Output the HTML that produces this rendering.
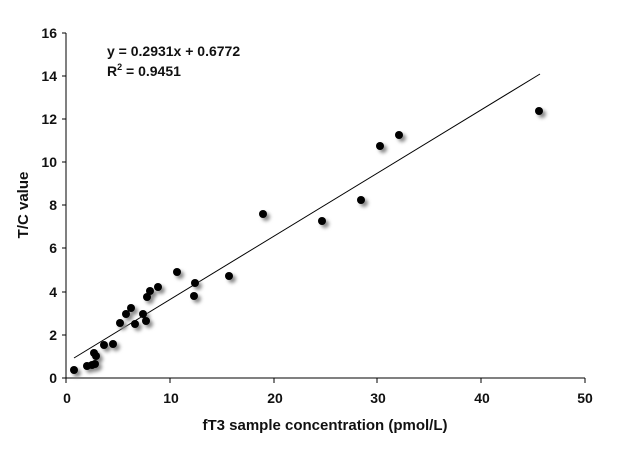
<!DOCTYPE html>
<html><head><style>
html,body{margin:0;padding:0;background:#fff;}
svg text{font-family:"Liberation Sans",sans-serif;fill:#111;}
</style></head><body>
<svg width="624" height="450" viewBox="0 0 624 450" xmlns="http://www.w3.org/2000/svg">
<defs>
<filter id="sh" x="-1" y="-1" width="3" height="3"><feGaussianBlur stdDeviation="1.8"/></filter>
</defs>
<g stroke="#000" stroke-width="1" fill="none">
<line x1="66" y1="33" x2="66" y2="378"/>
<line x1="66" y1="378" x2="585" y2="378"/>
<line x1="62" y1="33" x2="66" y2="33"/>
<line x1="62" y1="76" x2="66" y2="76"/>
<line x1="62" y1="119" x2="66" y2="119"/>
<line x1="62" y1="162" x2="66" y2="162"/>
<line x1="62" y1="205" x2="66" y2="205"/>
<line x1="62" y1="248" x2="66" y2="248"/>
<line x1="62" y1="292" x2="66" y2="292"/>
<line x1="62" y1="335" x2="66" y2="335"/>
<line x1="62" y1="378" x2="66" y2="378"/>
<line x1="66" y1="378" x2="66" y2="383"/>
<line x1="170" y1="378" x2="170" y2="383"/>
<line x1="274" y1="378" x2="274" y2="383"/>
<line x1="377" y1="378" x2="377" y2="383"/>
<line x1="481" y1="378" x2="481" y2="383"/>
<line x1="585" y1="378" x2="585" y2="383"/>
</g>
<g font-size="14" font-weight="bold" text-anchor="end">
<text x="57" y="38">16</text><text x="57" y="81">14</text><text x="57" y="124">12</text>
<text x="57" y="167">10</text><text x="57" y="210">8</text><text x="57" y="253">6</text>
<text x="57" y="297">4</text><text x="57" y="340">2</text><text x="57" y="383">0</text>
</g>
<g font-size="14" font-weight="bold" text-anchor="middle">
<text x="67" y="403">0</text><text x="171" y="403">10</text><text x="275" y="403">20</text>
<text x="378" y="403">30</text><text x="482" y="403">40</text><text x="585" y="403">50</text>
</g>
<text x="325" y="430" font-size="15" font-weight="bold" text-anchor="middle">fT3 sample concentration (pmol/L)</text>
<text transform="translate(28,205) rotate(-90)" font-size="15" font-weight="bold" text-anchor="middle">T/C value</text>
<text x="107" y="56" font-size="14" font-weight="bold">y = 0.2931x + 0.6772</text>
<text x="107" y="76" font-size="14" font-weight="bold">R<tspan font-size="9" dy="-6">2</tspan><tspan dy="6"> = 0.9451</tspan></text>
<line x1="74" y1="358" x2="540" y2="74" stroke="#000" stroke-width="1"/>
<g id="pts">
<g fill="#888" filter="url(#sh)" transform="translate(3,3)">
<circle cx="74" cy="370" r="4"/><circle cx="87" cy="366" r="4"/><circle cx="92" cy="365" r="4"/><circle cx="95" cy="364" r="4"/>
<circle cx="94" cy="353" r="4"/><circle cx="96" cy="356" r="4"/><circle cx="104" cy="345" r="4"/><circle cx="113" cy="344" r="4"/>
<circle cx="120" cy="323" r="4"/><circle cx="126" cy="314" r="4"/><circle cx="131" cy="308" r="4"/><circle cx="135" cy="324" r="4"/>
<circle cx="143" cy="314" r="4"/><circle cx="147" cy="297" r="4"/><circle cx="146" cy="321" r="4"/><circle cx="150" cy="291" r="4"/>
<circle cx="158" cy="287" r="4"/><circle cx="177" cy="272" r="4"/><circle cx="195" cy="283" r="4"/><circle cx="194" cy="296" r="4"/>
<circle cx="229" cy="276" r="4"/><circle cx="263" cy="214" r="4"/><circle cx="322" cy="221" r="4"/><circle cx="361" cy="200" r="4"/>
<circle cx="380" cy="146" r="4"/><circle cx="399" cy="135" r="4"/><circle cx="539" cy="111" r="4"/>
</g>
<g fill="#000">
<circle cx="74" cy="370" r="4"/><circle cx="87" cy="366" r="4"/><circle cx="92" cy="365" r="4"/><circle cx="95" cy="364" r="4"/>
<circle cx="94" cy="353" r="4"/><circle cx="96" cy="356" r="4"/><circle cx="104" cy="345" r="4"/><circle cx="113" cy="344" r="4"/>
<circle cx="120" cy="323" r="4"/><circle cx="126" cy="314" r="4"/><circle cx="131" cy="308" r="4"/><circle cx="135" cy="324" r="4"/>
<circle cx="143" cy="314" r="4"/><circle cx="147" cy="297" r="4"/><circle cx="146" cy="321" r="4"/><circle cx="150" cy="291" r="4"/>
<circle cx="158" cy="287" r="4"/><circle cx="177" cy="272" r="4"/><circle cx="195" cy="283" r="4"/><circle cx="194" cy="296" r="4"/>
<circle cx="229" cy="276" r="4"/><circle cx="263" cy="214" r="4"/><circle cx="322" cy="221" r="4"/><circle cx="361" cy="200" r="4"/>
<circle cx="380" cy="146" r="4"/><circle cx="399" cy="135" r="4"/><circle cx="539" cy="111" r="4"/>
</g>
</g>
</svg>
</body></html>
